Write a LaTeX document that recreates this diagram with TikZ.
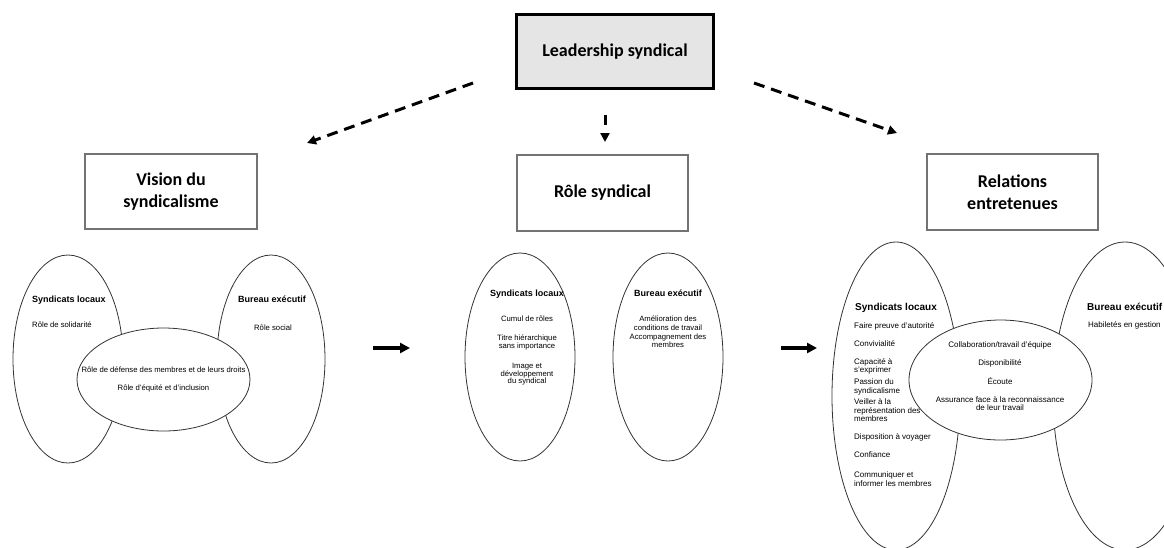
\documentclass[tikz,border=0pt]{standalone}
\usepackage{fontspec}
\setmainfont{Liberation Sans}
\newfontfamily\headfont{Carlito}
\usetikzlibrary{arrows.meta,shapes.geometric}

\begin{document}
\begin{tikzpicture}[x=1pt,y=-1pt,
  headbox/.style={draw=black!55, line width=1.2pt, minimum width=171pt,
    minimum height=76pt, inner sep=0pt, align=center,
    font=\headfont\fontsize{18}{22}\selectfont\bfseries},
  topbox/.style={headbox, draw=black, line width=3pt, fill=black!10,
    minimum width=197pt, minimum height=74pt},
  blob/.style={ellipse, draw=black!80, line width=0.8pt, inner sep=0pt},
  hub/.style={blob, fill=white},
  lbl/.style={inner sep=0pt, font=\fontsize{9}{11}\selectfont\bfseries},
  lblbig/.style={inner sep=0pt, font=\fontsize{10}{12}\selectfont\bfseries},
  itm/.style={inner sep=0pt, font=\fontsize{7.7}{8.6}\selectfont},
  itmbig/.style={inner sep=0pt, font=\fontsize{8}{9}\selectfont},
  dasharrow/.style={line width=3pt, dash pattern=on 11pt off 7pt,
    -{Triangle[length=9pt,width=9pt]}},
  flow/.style={line width=3.2pt, -{Triangle[length=10pt,width=10pt]}}
]
\useasboundingbox (0,0) rectangle (1164,547);
\clip (0,0) rectangle (1164,547);

% top-level boxes
\node[topbox] (lead) at (615,51.5) {Leadership syndical};
\node[headbox, minimum width=172pt, minimum height=75pt] (vision) at (171,191.5) {Vision du\\syndicalisme};
\node[headbox] (role) at (602.5,193) {Rôle syndical};
\node[headbox] (rel) at (1012.5,192) {Relations\\entretenues};

% dashed arrows from the leadership box
\coordinate (dl1) at (473,83);  \coordinate (dl2) at (307,143);
\coordinate (dm1) at (605,115); \coordinate (dm2) at (605,142);
\coordinate (dr1) at (754,83);  \coordinate (dr2) at (897,133);
\draw[dasharrow] (dl1) -- (dl2);
\draw[dasharrow, dash pattern=on 10pt off 8pt] (dm1) -- (dm2);
\draw[dasharrow] (dr1) -- (dr2);

% ---- Vision du syndicalisme ----
\node[blob, minimum width=110pt, minimum height=208pt] (vl) at (68,359) {};
\node[blob, minimum width=108pt, minimum height=208pt] (vb) at (271,359) {};
\node[hub, minimum width=173pt, minimum height=103pt] (vc) at (163.5,379.5) {};
\node[lbl, anchor=base west] (vlt) at (32,302) {Syndicats locaux};
\node[itm, anchor=base west] (vl1) at (32,327.5) {Rôle de solidarité};
\node[lbl, anchor=base] (vbt) at (272,302) {Bureau exécutif};
\node[itm, anchor=base] (vb1) at (273,330.5) {Rôle social};
\node[itm, anchor=base] (vc1) at (163.5,372.5) {Rôle de défense des membres et de leurs droits};
\node[itm, anchor=base] (vc2) at (163.5,390.5) {Rôle d'équité et d'inclusion};

% ---- Rôle syndical ----
\node[blob, minimum width=110pt, minimum height=208pt] (ml) at (520,357) {};
\node[blob, minimum width=110pt, minimum height=208pt] (mb) at (668,357) {};
\node[lbl, anchor=base] (mlt) at (527,296) {Syndicats locaux};
\foreach \yy/\txt [count=\i] in {321.5/Cumul de rôles, 340.5/Titre hiérarchique,
    348.5/sans importance, 368.5/Image et, 376/développement, 383.5/du syndical}
  \node[itm, anchor=base] (ml\i) at (527,\yy) {\txt};
\node[lbl, anchor=base] (mbt) at (668,296) {Bureau exécutif};
\foreach \yy/\txt [count=\i] in {321.5/Amélioration des, 330.5/conditions de travail,
    339.5/Accompagnement des, 347.5/membres}
  \node[itm, anchor=base] (mb\i) at (668,\yy) {\txt};

% ---- Relations entretenues ----
\node[blob, minimum width=128pt, minimum height=308pt] (rl) at (896,396) {};
\node[blob, minimum width=144pt, minimum height=308pt] (rb) at (1125,396) {};
\node[hub, minimum width=183pt, minimum height=120pt] (rc) at (1000.5,380) {};
\node[lblbig, anchor=base west] (rlt) at (855,310) {Syndicats locaux};
\foreach \yy/\txt [count=\i] in {328.5/Faire preuve d'autorité, 346.5/Convivialité,
    364.5/Capacité à, 372.5/s'exprimer, 384.5/Passion du, 393.5/syndicalisme,
    404.5/Veiller à la, 413.5/représentation des, 421.5/membres,
    439.5/Disposition à voyager, 457.5/Confiance,
    477.5/Communiquer et, 486.5/informer les membres}
  \node[itmbig, anchor=base west] (rl\i) at (854,\yy) {\txt};
\node[itmbig, anchor=base] (rc1) at (1000,347.5) {Collaboration/travail d'équipe};
\node[itmbig, anchor=base] (rc2) at (1000,365.5) {Disponibilité};
\node[itmbig, anchor=base] (rc3) at (1000,384.5) {Écoute};
\node[itmbig, anchor=base] (rc4) at (1000,402.5) {Assurance face à la reconnaissance};
\node[itmbig, anchor=base] (rc5) at (1000,410.5) {de leur travail};
\node[lblbig, anchor=base west] (rbt) at (1087,310) {Bureau exécutif};
\node[itmbig, anchor=base west] (rb1) at (1088,327.5) {Habiletés en gestion};

% solid arrows between the groups
\coordinate (s1a) at (373,348); \coordinate (s1b) at (410,348);
\coordinate (s2a) at (781,348); \coordinate (s2b) at (817,348);
\draw[flow] (s1a) -- (s1b);
\draw[flow] (s2a) -- (s2b);
\end{tikzpicture}
\end{document}
